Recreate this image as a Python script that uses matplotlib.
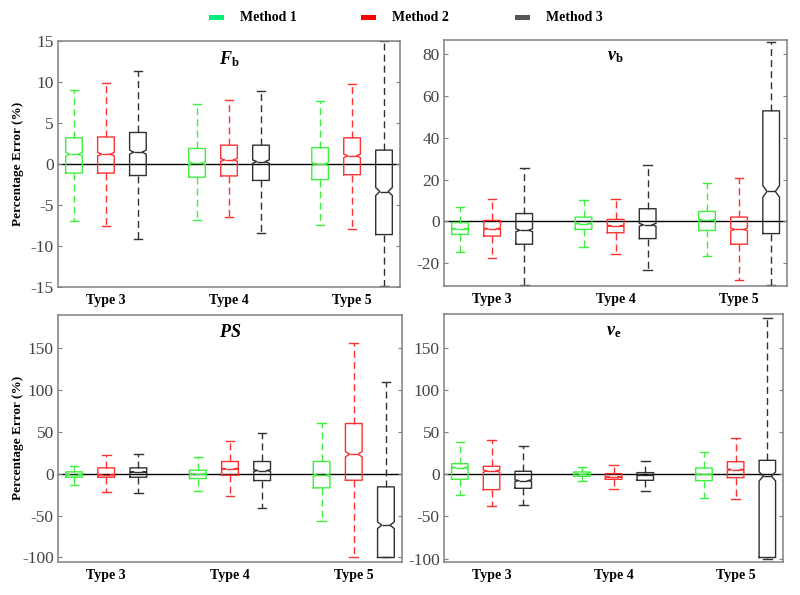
import numpy as np
import matplotlib
matplotlib.use("Agg")
import matplotlib.pyplot as plt
from matplotlib.patches import Rectangle

plt.rcParams['font.family'] = ['Liberation Serif', 'DejaVu Serif']
plt.rcParams['mathtext.fontset'] = 'custom'
plt.rcParams['mathtext.rm'] = 'Liberation Serif'
plt.rcParams['mathtext.it'] = 'Liberation Serif:italic'
plt.rcParams['mathtext.bf'] = 'Liberation Serif:bold'
plt.rcParams['mathtext.bfit'] = 'Liberation Serif:italic:bold'

# ---------------- data ----------------
groups = ["Type 3", "Type 4", "Type 5"]
methods = ["Method 1", "Method 2", "Method 3"]
n_samples = 1100  # used for notch (confidence interval of median)

# order: Type3 (M1, M2, M3), Type4 (M1, M2, M3), Type5 (M1, M2, M3)
fb_whishi = [9.0, 9.9, 11.4, 7.3, 7.8, 8.9, 7.7, 9.8, 15.0]
fb_q3     = [3.2, 3.3, 3.85, 1.9, 2.3, 2.3, 2.0, 3.2, 1.7]
fb_med    = [1.2, 1.2, 1.45, 0.1, 0.5, 0.3, 0.0, 1.0, -3.35]
fb_q1     = [-1.1, -1.1, -1.4, -1.6, -1.45, -2.0, -1.9, -1.3, -8.6]
fb_whislo = [-7.0, -7.55, -9.1, -6.85, -6.5, -8.4, -7.4, -7.95, -14.9]

vb_whishi = [7.0, 10.6, 25.4, 10.4, 10.9, 27.0, 18.2, 21.0, 86.0]
vb_q3     = [-0.5, 0.5, 3.8, 2.1, 1.0, 6.1, 4.8, 2.1, 53.0]
vb_med    = [-3.5, -3.5, -4.2, -1.0, -2.1, -1.6, 0.6, -3.8, 14.4]
vb_q1     = [-6.2, -7.0, -10.9, -3.8, -5.4, -8.2, -4.3, -10.9, -5.8]
vb_whislo = [-14.6, -17.6, -30.2, -12.3, -15.8, -23.2, -16.5, -27.8, -30.6]

ps_whishi = [10.0, 23.0, 24.3, 20.7, 39.5, 49.0, 61.0, 156.0, 110.0]
ps_q3     = [2.4, 7.2, 7.2, 4.4, 14.8, 14.8, 14.8, 60.2, -15.5]
ps_med    = [-1.0, -1.0, 2.0, 0.0, 6.0, 4.0, -1.6, 23.5, -61.4]
ps_q1     = [-4.0, -4.0, -4.0, -5.6, -1.6, -8.0, -16.7, -7.6, -100.0]
ps_whislo = [-12.8, -21.5, -22.3, -20.3, -26.7, -40.3, -56.2, -100.0, -100.0]

ve_whishi = [38.3, 40.7, 34.0, 8.3, 11.0, 15.8, 26.5, 43.0, 186.0]
ve_q3     = [12.6, 9.5, 3.6, 2.8, 0.8, 2.0, 7.5, 15.0, 16.6]
ve_med    = [7.9, 3.9, -7.5, 0.8, -3.2, -1.2, 0.0, 5.5, -2.4]
ve_q1     = [-5.9, -18.2, -16.6, -2.4, -5.9, -7.1, -7.5, -3.9, -98.7]
ve_whislo = [-24.1, -37.5, -36.3, -7.5, -17.4, -20.1, -27.6, -28.8, -100.0]

fb_ticks = [-15, -10, -5, 0, 5, 10, 15]
vb_ticks = [-20, 0, 20, 40, 60, 80]
ps_ticks = [-100, -50, 0, 50, 100, 150]
ve_ticks = [-100, -50, 0, 50, 100, 150]

# ---------------- style ----------------
box_colors = ['#3ef03e', '#ff3030', '#303030']
legend_colors = ['#00f07a', '#ff0000', '#555555']
spine_col = '#808080'
tick_col = '#444444'

panels = [
    dict(title=r'$\mathbfit{F}_{\mathbf{b}}$', stats=(fb_whislo, fb_q1, fb_med, fb_q3, fb_whishi),
         ylim=(-15, 15), ticks=fb_ticks, rect=[0.0725, 0.5176, 0.4275, 0.4134], ylabel=True),
    dict(title=r'$\mathbfit{v}_{\mathbf{b}}$', stats=(vb_whislo, vb_q1, vb_med, vb_q3, vb_whishi),
         ylim=(-31, 87), ticks=vb_ticks, rect=[0.555, 0.519, 0.429, 0.414], ylabel=False),
    dict(title=r'$\mathbfit{PS}$', stats=(ps_whislo, ps_q1, ps_med, ps_q3, ps_whishi),
         ylim=(-105, 190), ticks=ps_ticks, rect=[0.0725, 0.056, 0.4300, 0.4146], ylabel=True),
    dict(title=r'$\mathbfit{v}_{\mathbf{e}}$', stats=(ve_whislo, ve_q1, ve_med, ve_q3, ve_whishi),
         ylim=(-104, 190), ticks=ve_ticks, rect=[0.555, 0.0555, 0.424, 0.4165], ylabel=False),
]

group_spacing = 3.85
offsets = [-1, 0, 1]
positions = [g * group_spacing + o for g in range(len(groups)) for o in offsets]

fig = plt.figure(figsize=(8.0, 5.95), dpi=100)

for p in panels:
    ax = fig.add_axes(p['rect'])
    wlo, q1, med, q3, whi = p['stats']
    for i, pos in enumerate(positions):
        c = box_colors[i % 3]
        iqr = q3[i] - q1[i]
        half = 1.57 * iqr / np.sqrt(n_samples)
        st = dict(med=med[i], q1=q1[i], q3=q3[i], whislo=wlo[i], whishi=whi[i],
                  cilo=med[i] - half, cihi=med[i] + half, fliers=[])
        ax.bxp([st], positions=[pos], widths=0.52, shownotches=True, showfliers=False,
               capwidths=0.27,
               boxprops=dict(color=c, linewidth=1.0),
               medianprops=dict(color=c, linewidth=1.0),
               whiskerprops=dict(color=c, linewidth=1.0, linestyle=(0, (5, 3))),
               capprops=dict(color=c, linewidth=1.0),
               manage_ticks=False)
    ax.axhline(0, color='black', linewidth=1.0, zorder=0.5)
    ax.set_xlim(-1.5, 2 * group_spacing + 1.5)
    ax.set_ylim(*p['ylim'])
    ax.set_yticks(p['ticks'])
    ax.set_yticklabels([str(t) for t in p['ticks']])
    ax.set_xticks([g * group_spacing for g in range(len(groups))])
    ax.set_xticklabels(groups, fontsize=10, fontweight='bold', color='black')
    ax.tick_params(axis='x', length=0, pad=5)
    ax.tick_params(axis='y', direction='in', length=3, width=0.8, colors=spine_col,
                   labelcolor=tick_col, labelsize=12.5, right=True, pad=3)
    for s in ax.spines.values():
        s.set_color(spine_col)
        s.set_linewidth(1.1)
    ax.text(0.5, 0.965, p['title'], transform=ax.transAxes, ha='center', va='top', fontsize=13)
    if p['ylabel']:
        ax.set_ylabel('Percentage Error (%)', fontsize=9.5, fontweight='bold')
        ax.yaxis.set_label_coords(-0.10, 0.5)

# legend
leg_x = [0.261, 0.451, 0.644]
for i, m in enumerate(methods):
    fig.patches.append(Rectangle((leg_x[i], 0.966), 0.019, 0.008, transform=fig.transFigure,
                                 facecolor=legend_colors[i], edgecolor='none'))
    fig.text(leg_x[i] + 0.039, 0.970, m, fontsize=10, fontweight='bold', va='center', ha='left')

fig.savefig('out.png', dpi=100)
